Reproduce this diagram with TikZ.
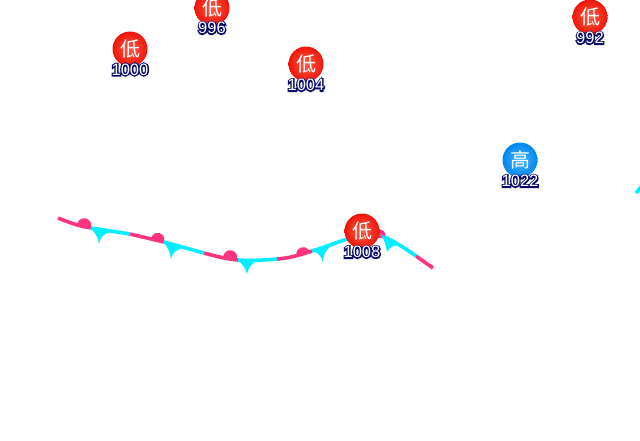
\documentclass[tikz,border=0pt]{standalone}
\usepackage{xcolor}
\usepackage{fontspec}
\setmainfont{Liberation Sans}
\newfontfamily\cjk{Noto Sans CJK SC}
\newfontfamily\halofont{Liberation Sans}[FakeBold=16]
\definecolor{warmpink}{RGB}{255,51,126}
\definecolor{coldcyan}{RGB}{0,238,255}
\definecolor{lowred}{RGB}{240,20,10}
\definecolor{lowglow}{RGB}{255,96,72}
\definecolor{highblue}{RGB}{0,132,240}
\definecolor{highglow}{RGB}{80,184,255}
\definecolor{haloblue}{RGB}{10,10,110}
\tikzset{
  warm/.style={draw=warmpink,line width=3.6pt},
  cold/.style={draw=coldcyan,line width=3.6pt},
  warmbump/.style={fill=warmpink},
  coldbarb/.style={fill=coldcyan},
  lowcentre/.style={circle,minimum size=35pt,inner sep=0pt,text=white,font=\cjk\fontsize{20}{20}\selectfont,
    shading=radial,inner color=lowglow,outer color=lowred},
  highcentre/.style={circle,minimum size=35pt,inner sep=0pt,text=white,font=\cjk\fontsize{20}{20}\selectfont,
    shading=radial,inner color=highglow,outer color=highblue},
  halotext/.style={inner sep=0pt,text=haloblue,font=\halofont\fontsize{16.5}{16.5}\selectfont},
  pressure/.style={inner sep=0pt,text=white,font=\fontsize{16.5}{16.5}\selectfont}
}
\begin{document}
\begin{tikzpicture}[x=1pt,y=-1pt]
\clip (0,0) rectangle (640,440);

% Draw the warm stretches
  \draw[warm] (58,218) .. controls (68,222) and (78,226) .. (91,228);
  \draw[warm] (130,234) -- (164,242);
  \draw[warm] (204,253) .. controls (215,256) and (226,259) .. (238,260);
  \draw[warm] (277,259) .. controls (290,258) and (300,255) .. (312,251);
  \draw[warm] (416,256) -- (433,268);
% Draw the cold stretches
  \draw[cold] (91,228) -- (130,234);
  \draw[cold] (164,242) -- (204,253);
  \draw[cold] (238,260) .. controls (250,261) and (264,260) .. (277,259);
  \draw[cold] (312,251) .. controls (325,247) and (338,242) .. (350,238);
  \draw[cold] (381,235) .. controls (393,241) and (405,248) .. (416,256);
  \draw[cold] (636,193) -- (641,187);
%warm bumps
  \fill[warmbump] (77.5,227) arc[start angle=195,end angle=-5,radius=7pt] -- cycle;
  \fill[warmbump] (151.5,241) arc[start angle=195,end angle=-5,radius=6.5pt] -- cycle;
  \fill[warmbump] (223.5,259) arc[start angle=195,end angle=-5,radius=7pt] -- cycle;
  \fill[warmbump] (296.5,256) arc[start angle=195,end angle=5,radius=7pt] -- cycle;
  \fill[warmbump] (373,238) arc[start angle=200,end angle=-20,radius=6.5pt] -- cycle;
%cold barbs
  \fill[coldbarb] (90,228) .. controls (95,232) and (98,237) .. (99,244) .. controls (100,238) and (103,234) .. (110,232) -- cycle;
  \fill[coldbarb] (163,242) .. controls (168,247) and (170,252) .. (171,259) .. controls (172,253) and (176,249) .. (184,248) -- cycle;
  \fill[coldbarb] (237,260) .. controls (242,263) and (245,267) .. (247,274) .. controls (248,268) and (251,264) .. (258,260) -- cycle;
  \fill[coldbarb] (311,250) .. controls (317,252) and (321,255) .. (323,262) .. controls (323,255) and (326,250) .. (332,245) -- cycle;
  \fill[coldbarb] (380,234) .. controls (385,240) and (386,246) .. (387,252) .. controls (390,247) and (395,244) .. (401,245) -- cycle;

% Draw the centres
  \node[lowcentre] (low996) at (212,8) {低};
  \node[halotext] (h996) at (212,28) {996};
  \node[pressure] (p996) at (212,28) {996};

  \node[lowcentre] (low1000) at (130,49) {低};
  \node[halotext] (h1000) at (130,69.5) {1000};
  \node[pressure] (p1000) at (130,69.5) {1000};

  \node[lowcentre] (low1004) at (306,64) {低};
  \node[halotext] (h1004) at (306,85) {1004};
  \node[pressure] (p1004) at (306,85) {1004};

  \node[lowcentre] (low992) at (590,17) {低};
  \node[halotext] (h992) at (590,38) {992};
  \node[pressure] (p992) at (590,38) {992};

  \node[highcentre] (high1022) at (520,160) {高};
  \node[halotext] (h1022) at (520,181) {1022};
  \node[pressure] (p1022) at (520,181) {1022};

  \node[lowcentre] (low1008) at (362,231) {低};
  \node[halotext] (h1008) at (362,252) {1008};
  \node[pressure] (p1008) at (362,252) {1008};
\end{tikzpicture}
\end{document}
